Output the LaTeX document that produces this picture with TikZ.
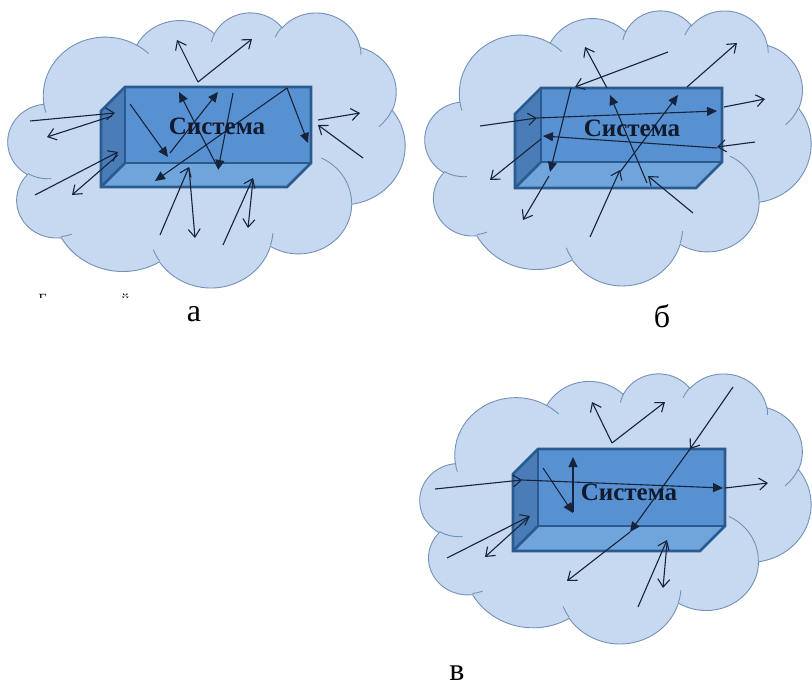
\documentclass[tikz,border=0pt]{standalone}
\usepackage{fontspec}
\setmainfont{Liberation Serif}
\usetikzlibrary{arrows.meta}
\definecolor{cloudfill}{HTML}{C6D9F0}
\definecolor{cloudline}{HTML}{7391B8}
\definecolor{boxfront}{HTML}{5891D2}
\definecolor{boxleft}{HTML}{4A7DB8}
\definecolor{boxbottom}{HTML}{70A5DC}
\definecolor{boxline}{HTML}{2B5B8E}
\definecolor{ink}{HTML}{17233A}
\definecolor{txt}{HTML}{121A2E}
\newcommand\cpathadd[4]{%
  \pgfmathsetmacro\cta{atan2((#1)*sin(#3),(#2)*cos(#3))}%
  \pgfmathsetmacro\ctb{atan2((#1)*sin((#3)+(#4)),(#2)*cos((#3)+(#4)))}%
  \pgfmathsetmacro\ctd{mod(\ctb-\cta+720,360)}%
  \xdef\cpath{\cpath arc[start angle=\cta, delta angle=\ctd, x radius=#1pt, y radius=#2pt]}}
\newcommand\ipathadd[6]{%
  \pgfmathsetmacro\cta{atan2((#3)*sin(#5),(#4)*cos(#5))}%
  \pgfmathsetmacro\ctb{atan2((#3)*sin((#5)+(#6)),(#4)*cos((#5)+(#6)))}%
  \pgfmathsetmacro\ctd{mod(\ctb-\cta+720,360)}%
  \xdef\ipath{\ipath (#1,#2) arc[start angle=\cta, delta angle=\ctd, x radius=#3pt, y radius=#4pt]}}
\newcommand\cloudat[4]{%
  \begin{scope}[shift={(#1,#2)},xscale=#3/432,yscale=#4/432]
    \filldraw[fill=cloudfill,draw=cloudline,line width=0.9pt] (39,143.7) \cpath -- cycle;
    \draw[cloudline,line width=0.9pt] \ipath;
  \end{scope}}
\newcommand\sysbox[5]{% L T R B d
  \fill[boxfront] ({#1+#5},#2) rectangle (#3,{#4-#5});
  \fill[boxleft] (#1,{#2+#5}) -- ({#1+#5},#2) -- ({#1+#5},{#4-#5}) -- (#1,#4) -- cycle;
  \fill[boxbottom] (#1,#4) -- ({#1+#5},{#4-#5}) -- (#3,{#4-#5}) -- ({#3-#5},#4) -- cycle;
  \draw[boxline,line width=2.6pt,line join=miter] (#1,{#2+#5}) -- ({#1+#5},#2) -- (#3,#2) -- (#3,{#4-#5}) -- ({#3-#5},#4) -- (#1,#4) -- cycle;
  \draw[boxline,line width=2.6pt] ({#1+#5},#2) -- ({#1+#5},{#4-#5}) -- (#3,{#4-#5});
  \draw[boxline,line width=2.6pt] ({#1+#5},{#4-#5}) -- (#1,#4);}
\tikzset{
  oarr/.style={ink,line width=1.1pt,-{Straight Barb[length=8pt,width=12pt,line width=1.1pt]}},
  farr/.style={ink,line width=1.1pt,-{Triangle[length=10pt,width=9pt]}},
  systxt/.style={text=txt,font=\bfseries\fontsize{25}{25}\selectfont},
  lbl/.style={text=black,font=\fontsize{32}{32}\selectfont}
}
\begin{document}
\begin{tikzpicture}[x=1pt,y=1pt,yscale=-1]
\gdef\cpath{}
\cpathadd{67.53}{91.90}{-190.4875}{123.7805}
\cpathadd{53.33}{72.67}{-144.1024}{89.9452}
\cpathadd{43.65}{59.45}{-145.8079}{99.7230}
\cpathadd{48.57}{65.95}{-130.9861}{117.2417}
\cpathadd{53.33}{72.73}{-78.7089}{109.0269}
\cpathadd{67.75}{92.20}{-46.2673}{130.2690}
\cpathadd{57.85}{78.67}{0.6250}{114.0333}
\cpathadd{67.52}{92.15}{22.4516}{115.1726}
\cpathadd{77.20}{105.43}{66.2426}{75.7110}
\cpathadd{43.60}{59.18}{-274.9421}{146.7356}
\cpathadd{43.45}{59.45}{-246.8285}{152.5189}
\gdef\ipath{}
\ipathadd{46.93}{261.77}{43.45}{59.45}{86.742}{26.430}
\ipathadd{69.28}{348.99}{43.60}{59.18}{73.610}{11.447}
\ipathadd{164.78}{390.90}{67.52}{92.15}{137.624}{14.081}
\ipathadd{288.27}{347.51}{67.52}{92.15}{6.453}{15.998}
\ipathadd{341.29}{229.54}{57.85}{78.67}{-70.292}{70.917}
\ipathadd{417.98}{153.54}{53.33}{72.73}{30.318}{27.752}
\ipathadd{383.24}{54.26}{48.57}{65.95}{-13.744}{14.859}
\ipathadd{290.78}{39.52}{48.57}{65.95}{-149.181}{18.195}
\ipathadd{221.41}{47.20}{43.65}{59.45}{-163.494}{17.686}
\ipathadd{140.00}{51.92}{67.53}{91.90}{-66.707}{12.319}
\ipathadd{41.27}{157.89}{67.53}{91.90}{157.654}{11.858}
\useasboundingbox (0,0) rectangle (812,687);
\fill[white] (0,0) rectangle (812,687);
% clouds
\cloudat{8}{12}{397}{275}
\cloudat{425}{10}{386}{275}
\cloudat{420}{373}{391}{270}
% boxes
\sysbox{101}{87}{311}{187}{24}
\sysbox{515}{88}{722}{188}{26}
\sysbox{513}{449}{725}{551}{25}
% panel a arrows
\draw[oarr] (198,82) -- (177,40);
\draw[oarr] (198,82) -- (252,39);
\draw[oarr] (30,121) -- (115,113);
\draw[oarr] (112,116) -- (47,137);
\draw[oarr] (35,195) -- (118,152);
\draw[oarr] (118,155) -- (72,195);
\draw[farr] (130,104) -- (168,157);
\draw[farr] (170,153) -- (218,92);
\draw[farr] (218,168) -- (179,92);
\draw[farr] (233,93) -- (218,170);
\draw[farr] (287,88) -- (155,181);
\draw[farr] (287,88) -- (308,143);
\draw[oarr] (318,120) -- (360,113);
\draw[oarr] (363,158) -- (318,125);
\draw[oarr] (160,235) -- (189,167);
\draw[oarr] (189,168) -- (195,238);
\draw[oarr] (223,245) -- (253,178);
\draw[oarr] (253,180) -- (248,228);
% panel b arrows
\draw[oarr] (668,52) -- (575,87);
\draw[farr] (571,88) -- (550,172);
\draw[oarr] (549,176) -- (523,220);
\draw[oarr] (693,213) -- (648,176);
\draw[farr] (647,183) -- (610,95);
\draw[oarr] (607,88) -- (585,47);
\draw[oarr] (590,237) -- (620,170);
\draw[farr] (620,172) -- (678,95);
\draw[oarr] (687,87) -- (737,43);
\draw[oarr] (480,126) -- (537,118);
\draw[farr] (537,118) -- (717,111);
\draw[oarr] (724,107) -- (765,99);
\draw[oarr] (755,142) -- (717,147);
\draw[farr] (717,148) -- (543,136);
\draw[oarr] (541,139) -- (490,180);
% panel c arrows
\draw[oarr] (612,443) -- (592,402);
\draw[oarr] (612,443) -- (665,402);
\draw[oarr] (435,489) -- (522,480);
\draw[farr] (522,480) -- (723,488);
\draw[oarr] (725,488) -- (768,483);
\draw[farr] (543,468) -- (573,513);
\draw[farr] (573,512) -- (573,457);
\draw[oarr] (733,387) -- (690,449);
\draw[farr] (690,449) -- (630,532);
\draw[oarr] (630,532) -- (567,581);
\draw[oarr] (447,558) -- (530,516);
\draw[oarr] (528,518) -- (485,557);
\draw[oarr] (638,607) -- (667,540);
\draw[oarr] (667,543) -- (663,588);
% texts
\node[systxt] (ta) at (217,126) {Система};
\node[systxt] (tb) at (632,128) {Система};
\node[systxt] (tc) at (629,492) {Система};
\node[lbl] (la) at (194,314) {а};
\node[lbl] (lb) at (662,316) {б};
\node[lbl] (lc) at (457,673) {в};
\begin{scope}
\clip (30,290) rectangle (135,297.5);
\node[font=\fontsize{14}{14}\selectfont,anchor=base west] (fr1) at (35,304) {Г};
\node[font=\fontsize{14}{14}\selectfont,anchor=base west] (fr2) at (118,304) {й};
\end{scope}
\end{tikzpicture}
\end{document}
